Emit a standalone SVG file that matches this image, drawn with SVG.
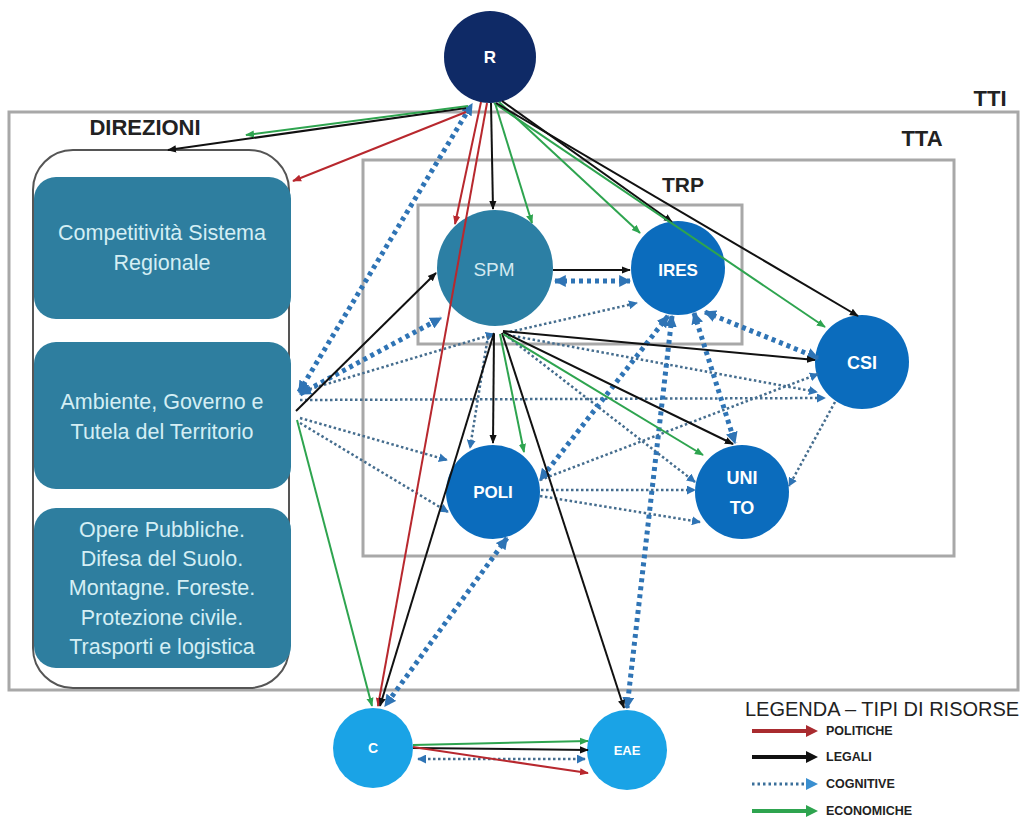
<svg xmlns="http://www.w3.org/2000/svg" width="1022" height="820" viewBox="0 0 1022 820">
<style>
.frame{fill:none;stroke:#a8a8a8;stroke-width:3}
.ttl{font-family:"Liberation Sans",Arial,sans-serif;font-weight:bold;fill:#222;text-anchor:middle}
.box{fill:#2e7e9f}
.btx{font-family:"Liberation Sans",Arial,sans-serif;font-size:21.5px;fill:#d4eef4;text-anchor:middle}
.nl{font-family:"Liberation Sans",Arial,sans-serif;font-weight:bold;fill:#fff;text-anchor:middle}
.red{stroke:#b8282e;stroke-width:2;fill:none;marker-end:url(#mR)}
.blk{stroke:#111;stroke-width:2;fill:none;marker-end:url(#mK)}
.grn{stroke:#2ea44f;stroke-width:2;fill:none;marker-end:url(#mG)}
.cog{stroke:#2f74b5;stroke-width:5;stroke-dasharray:4 4;fill:none;marker-start:url(#mB);marker-end:url(#mB)}
.thin{stroke:#456d8e;stroke-width:2.5;stroke-dasharray:2.5 2.5;fill:none;marker-end:url(#mb)}
.leg{font-family:"Liberation Sans",Arial,sans-serif;font-size:12.5px;font-weight:bold;fill:#222}
</style>
<defs>
<marker id="mR" viewBox="0 0 10 10" refX="9" refY="5" markerWidth="9" markerHeight="9" markerUnits="userSpaceOnUse" orient="auto-start-reverse"><path d="M0,1 L10,5 L0,9 z" fill="#b8282e"/></marker>
<marker id="mK" viewBox="0 0 10 10" refX="9" refY="5" markerWidth="9" markerHeight="9" markerUnits="userSpaceOnUse" orient="auto-start-reverse"><path d="M0,1 L10,5 L0,9 z" fill="#111"/></marker>
<marker id="mG" viewBox="0 0 10 10" refX="9" refY="5" markerWidth="9" markerHeight="9" markerUnits="userSpaceOnUse" orient="auto-start-reverse"><path d="M0,1 L10,5 L0,9 z" fill="#2ea44f"/></marker>
<marker id="mB" viewBox="0 0 10 10" refX="9" refY="5" markerWidth="12" markerHeight="12" markerUnits="userSpaceOnUse" orient="auto-start-reverse"><path d="M0,0 L10,5 L0,10 z" fill="#2f74b5"/></marker>
<marker id="mb" viewBox="0 0 10 10" refX="9" refY="5" markerWidth="9" markerHeight="9" markerUnits="userSpaceOnUse" orient="auto-start-reverse"><path d="M0,0 L10,5 L0,10 z" fill="#2f74b5"/></marker>
</defs>
<rect width="1022" height="820" fill="#fff"/>

<g id="frames">
<rect class="frame" x="9" y="112" width="1009" height="578"/>
<rect class="frame" x="363" y="160" width="591" height="396"/>
<rect class="frame" x="418" y="205" width="324" height="139"/>
<text class="ttl" x="990" y="106" font-size="22">TTI</text>
<text class="ttl" x="922" y="146" font-size="22">TTA</text>
<text class="ttl" x="683" y="192" font-size="21">TRP</text>
</g>

<g id="direzioni">
<text class="ttl" x="145" y="135" font-size="22">DIREZIONI</text>
<rect x="33" y="150" width="256" height="538" rx="40" fill="#fff" stroke="#555" stroke-width="2"/>
<g id="dir-competitivita">
<rect class="box" x="34" y="177" width="257" height="142" rx="22"/>
<text class="btx" x="162" y="240">Competitività Sistema</text>
<text class="btx" x="162" y="270">Regionale</text>
</g>
<g id="dir-ambiente">
<rect class="box" x="34" y="342" width="257" height="147" rx="22"/>
<text class="btx" x="162" y="409">Ambiente, Governo e</text>
<text class="btx" x="162" y="439">Tutela del Territorio</text>
</g>
<g id="dir-opere">
<rect class="box" x="34" y="508" width="257" height="160" rx="22"/>
<text class="btx" x="162" y="537">Opere Pubbliche.</text>
<text class="btx" x="162" y="566">Difesa del Suolo.</text>
<text class="btx" x="162" y="595">Montagne. Foreste.</text>
<text class="btx" x="162" y="625">Protezione civile.</text>
<text class="btx" x="162" y="654">Trasporti e logistica</text>
</g>
</g>

<g id="nodes">
<g id="R"><circle cx="490" cy="57" r="46" fill="#0f2a66"/><text class="nl" x="490" y="63" font-size="17">R</text></g>
<g id="SPM"><circle cx="495" cy="268" r="58" fill="#2c7fa4"/><text x="494" y="276" font-family="Liberation Sans,Arial,sans-serif" font-size="19" fill="#d2e9f0" text-anchor="middle">SPM</text></g>
<g id="IRES"><circle cx="678" cy="268" r="47" fill="#0b6cbd"/><text class="nl" x="678" y="276" font-size="17">IRES</text></g>
<g id="CSI"><circle cx="862" cy="362" r="47" fill="#0b6cbd"/><text class="nl" x="862" y="369" font-size="18">CSI</text></g>
<g id="POLI"><circle cx="493" cy="492" r="47" fill="#0b6cbd"/><text class="nl" x="493" y="498" font-size="17">POLI</text></g>
<g id="UNITO"><circle cx="742" cy="492" r="47" fill="#0b6cbd"/><text class="nl" x="742" y="484" font-size="18">UNI</text><text class="nl" x="742" y="514" font-size="18">TO</text></g>
<g id="C"><circle cx="373" cy="748" r="40" fill="#1aa3e6"/><text class="nl" x="373" y="753" font-size="14">C</text></g>
<g id="EAE"><circle cx="627" cy="750" r="40" fill="#1aa3e6"/><text class="nl" x="627" y="755" font-size="13">EAE</text></g>
</g>

<g id="connectors">
<!-- thin cognitive -->
<line class="thin" x1="300" y1="392" x2="494" y2="334"/>
<line class="thin" x1="300" y1="400" x2="825" y2="398"/>
<line class="thin" x1="300" y1="418" x2="447" y2="460"/>
<line class="thin" x1="300" y1="423" x2="448" y2="512"/>
<line class="thin" x1="505" y1="333" x2="637" y2="303"/>
<line class="thin" x1="508" y1="335" x2="817" y2="392"/>
<line class="thin" x1="508" y1="337" x2="695" y2="482"/>
<line class="thin" x1="488" y1="336" x2="470" y2="448"/>
<line class="thin" x1="540" y1="480" x2="818" y2="374"/>
<line class="thin" x1="541" y1="490" x2="695" y2="490"/>
<line class="thin" x1="540" y1="496" x2="700" y2="522"/>
<line class="thin" x1="835" y1="402" x2="789" y2="486"/>
<line class="thin" x1="418" y1="759" x2="585" y2="759" style="marker-start:url(#mb)"/>
<!-- thick cognitive -->
<line class="cog" x1="299" y1="392" x2="472" y2="104"/>
<line class="cog" x1="300" y1="394" x2="441" y2="318"/>
<line class="cog" x1="555" y1="281" x2="630" y2="281"/>
<line class="cog" x1="668" y1="316" x2="540" y2="480"/>
<line class="cog" x1="694" y1="313" x2="735" y2="443"/>
<line class="cog" x1="672" y1="316" x2="627" y2="708"/>
<line class="cog" x1="705" y1="312" x2="818" y2="358"/>
<line class="cog" x1="507" y1="538" x2="385" y2="706"/>
<!-- from R -->
<line class="blk" x1="466" y1="108" x2="168" y2="150"/>
<line class="grn" x1="468" y1="106" x2="246" y2="135"/>
<line class="red" x1="466" y1="112" x2="293" y2="181"/>
<line class="red" x1="481" y1="102" x2="455" y2="224"/>
<line class="red" x1="487" y1="103" x2="378" y2="706"/>
<line class="blk" x1="491" y1="103" x2="493" y2="209"/>
<line class="grn" x1="495" y1="103" x2="532" y2="223"/>
<line class="grn" x1="499" y1="102" x2="640" y2="233"/>
<line class="blk" x1="502" y1="101" x2="672" y2="222"/>
<line class="grn" x1="494" y1="103" x2="825" y2="327"/>
<line class="blk" x1="496" y1="103" x2="858" y2="316"/>
<!-- from Ambiente -->
<line class="blk" x1="296" y1="411" x2="436" y2="273"/>
<line class="grn" x1="297" y1="420" x2="372" y2="706"/>
<!-- from SPM -->
<line class="blk" x1="553" y1="270" x2="630" y2="270"/>
<line class="blk" x1="494" y1="334" x2="493" y2="443"/>
<line class="grn" x1="500" y1="334" x2="524" y2="452"/>
<line class="blk" x1="502" y1="333" x2="624" y2="708"/>
<line class="blk" x1="494" y1="333" x2="380" y2="706"/>
<line class="blk" x1="503" y1="332" x2="733" y2="444"/>
<line class="grn" x1="503" y1="334" x2="703" y2="455"/>
<line class="blk" x1="503" y1="331" x2="815" y2="360"/>
<!-- C to EAE -->
<line class="grn" x1="413" y1="745" x2="588" y2="741"/>
<line class="blk" x1="413" y1="748" x2="588" y2="750"/>
<line class="red" x1="413" y1="747" x2="588" y2="773"/>
</g>

<g id="legend">
<text x="745" y="716" font-family="Liberation Sans,Arial,sans-serif" font-size="20" fill="#222">LEGENDA – TIPI DI RISORSE</text>
<line x1="752" y1="731" x2="808" y2="731" stroke="#a92b2f" stroke-width="4"/><path d="M806,725 L818,731 L806,737 z" fill="#a92b2f"/>
<text class="leg" x="826" y="735">POLITICHE</text>
<line x1="752" y1="757" x2="808" y2="757" stroke="#111" stroke-width="4"/><path d="M806,751 L818,757 L806,763 z" fill="#111"/>
<text class="leg" x="826" y="761">LEGALI</text>
<line x1="752" y1="784" x2="808" y2="784" stroke="#3a6f9a" stroke-width="3" stroke-dasharray="2.5 3"/><path d="M806,778 L818,784 L806,790 z" fill="#3a8fd0"/>
<text class="leg" x="826" y="788">COGNITIVE</text>
<line x1="752" y1="811" x2="808" y2="811" stroke="#2ea44f" stroke-width="4"/><path d="M806,805 L818,811 L806,817 z" fill="#2ea44f"/>
<text class="leg" x="826" y="815">ECONOMICHE</text>
</g>
</svg>
